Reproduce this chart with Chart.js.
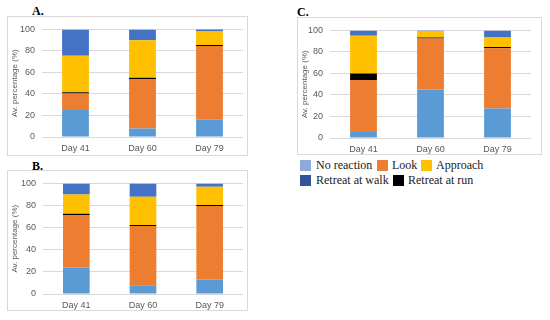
<!DOCTYPE html>
<html>
<head>
<meta charset="utf-8">
<script src="https://cdn.jsdelivr.net/npm/chart.js@4.4.1/dist/chart.umd.min.js"></script>
<style>
body { margin: 0; background: #fff; width: 550px; height: 320px; position: relative; overflow: hidden; }
.caja { position: absolute; border: 1px solid #d9d9d9; box-sizing: border-box; }
.caja canvas { display: block; }
.letra { position: absolute; font-family: "Liberation Serif", serif; font-weight: bold; font-size: 12px; color: #000; }
.ley { position: absolute; font-family: "Liberation Serif", serif; font-size: 12px; line-height: 12px; color: #222; white-space: nowrap; }
.cuadro { position: absolute; width: 11px; height: 11px; }
</style>
</head>
<body>

<div class="letra" style="left:32px;top:4px">A.</div>
<div class="caja" style="left:7px;top:16px;width:241px;height:140px"><canvas id="grafA" width="239" height="138"></canvas></div>

<div class="letra" style="left:32px;top:159px">B.</div>
<div class="caja" style="left:7px;top:170px;width:241px;height:141px"><canvas id="grafB" width="239" height="139"></canvas></div>

<div class="letra" style="left:297px;top:5px">C.</div>
<div class="caja" style="left:297px;top:17px;width:245px;height:138px"><canvas id="grafC" width="243" height="136"></canvas></div>

<!-- leyenda -->
<div class="cuadro" style="left:300px;top:160px;background:#8eaadb"></div>
<div class="ley" style="left:316px;top:159px">No reaction</div>
<div class="cuadro" style="left:377px;top:160px;background:#ed7d31"></div>
<div class="ley" style="left:392px;top:159px">Look</div>
<div class="cuadro" style="left:421px;top:160px;background:#ffc000"></div>
<div class="ley" style="left:436px;top:159px">Approach</div>
<div class="cuadro" style="left:300px;top:175px;background:#2f5597"></div>
<div class="ley" style="left:316px;top:174px">Retreat at walk</div>
<div class="cuadro" style="left:393px;top:175px;background:#000"></div>
<div class="ley" style="left:408px;top:174px">Retreat at run</div>

<script>
// categorias
const dias = ["Day 41", "Day 60", "Day 79"];
const ticksY = [0, 20, 40, 60, 80, 100];

// panel A
const noReaccionA = [25, 8, 16];
const miradaA = [15.5, 46, 68.5];
const corridaA = [1, 1, 1];
const acercaA = [34, 35, 12.5];
const caminaA = [24.5, 10, 2.5];

// panel B
const noReaccionB = [24, 8, 13];
const miradaB = [47.5, 53.5, 66.5];
const corridaB = [1, 1, 1];
const acercaB = [17.5, 25.5, 16.5];
const caminaB = [10, 12, 3];

// panel C
const noReaccionC = [5.5, 45, 27.5];
const miradaC = [48.5, 47.5, 56];
const corridaC = [6, 1, 1];
const acercaC = [35, 5.5, 9];
const caminaC = [5, 1, 6.5];

const colores = {
    noReaccion: "#5b9bd5",
    mirada: "#ed7d31",
    corrida: "#000000",
    acerca: "#ffc000",
    camina: "#4472c4"
};

function crearGrafico(id, nr, mi, co, ac, ca, cfg) {
    let serie = (label, data, color) => ({
        label: label,
        data: data,
        backgroundColor: color,
        borderWidth: 0,
        categoryPercentage: 1,
        barPercentage: 0.4
    });

    return new Chart(document.getElementById(id), {
        type: "bar",
        data: {
            labels: dias,
            datasets: [
                serie("No reaction", nr, colores.noReaccion),
                serie("Look", mi, colores.mirada),
                serie("Retreat at run", co, colores.corrida),
                serie("Approach", ac, colores.acerca),
                serie("Retreat at walk", ca, colores.camina)
            ]
        },
        options: {
            responsive: false,
            animation: false,
            layout: { padding: { top: cfg.arriba, right: cfg.derecha, left: 0, bottom: 0 } },
            plugins: { legend: { display: false }, tooltip: { enabled: false } },
            scales: {
                x: {
                    stacked: true,
                    grid: { display: false, drawTicks: false },
                    border: { display: false },
                    ticks: { color: "#595959", font: { family: "Liberation Sans", size: 9 }, padding: 6 },
                    afterFit: s => { s.height = cfg.altoX; }
                },
                y: {
                    stacked: true,
                    min: 0,
                    max: 100,
                    afterBuildTicks: s => { s.ticks = ticksY.map(v => ({ value: v })); },
                    grid: { color: "#d9d9d9", drawTicks: false },
                    border: { display: false },
                    ticks: { color: "#595959", font: { family: "Liberation Sans", size: 9 }, padding: 7 },
                    title: {
                        display: true,
                        text: "Av. percentage (%)",
                        color: "#595959",
                        font: { family: "Liberation Sans", size: 8 },
                        padding: { top: 2, bottom: 0 }
                    },
                    afterFit: s => { s.width = cfg.anchoY; }
                }
            }
        }
    });
}

crearGrafico("grafA", noReaccionA, miradaA, corridaA, acercaA, caminaA, { arriba: 5, derecha: 4, anchoY: 34, altoX: 18 });
crearGrafico("grafB", noReaccionB, miradaB, corridaB, acercaB, caminaB, { arriba: 8, derecha: 4, anchoY: 35, altoX: 16 });
crearGrafico("grafC", noReaccionC, miradaC, corridaC, acercaC, caminaC, { arriba: 9, derecha: 10, anchoY: 32, altoX: 16 });
</script>
</body>
</html>
